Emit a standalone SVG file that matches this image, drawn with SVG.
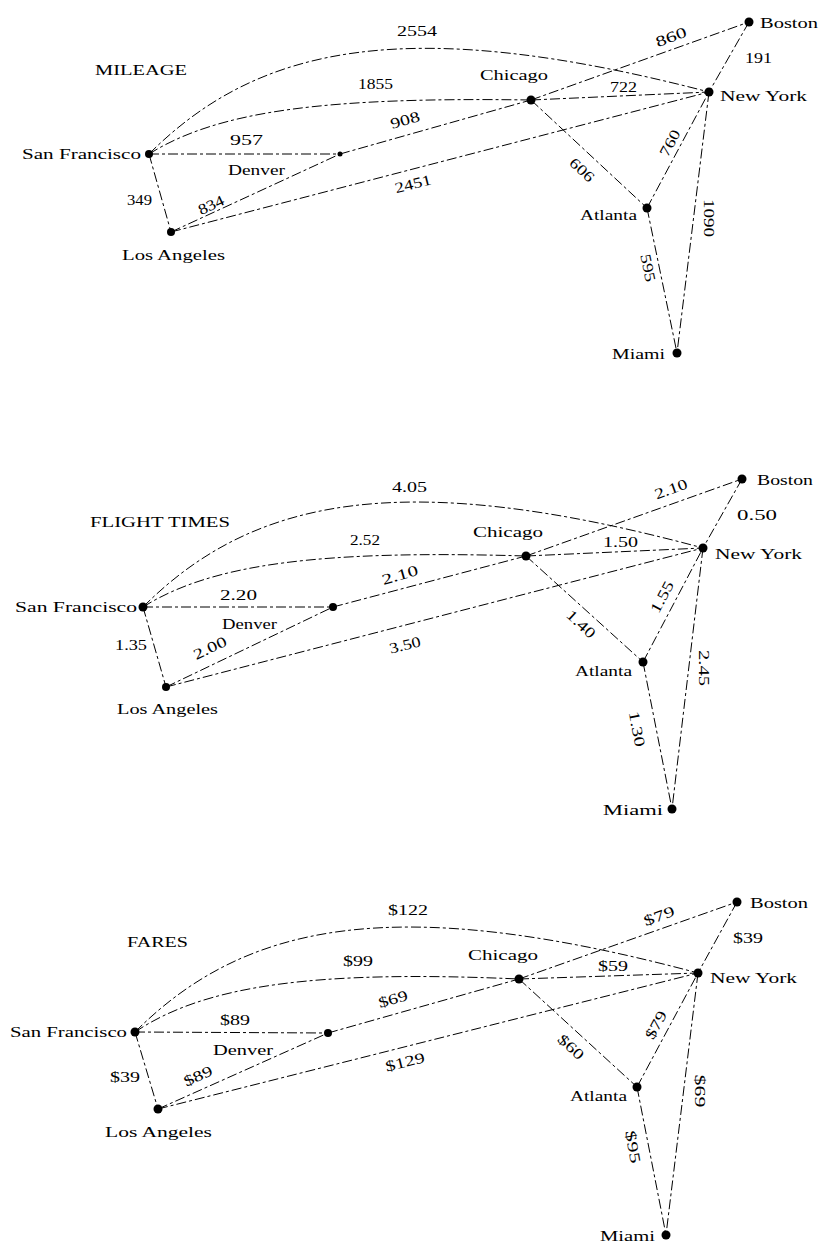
<svg xmlns="http://www.w3.org/2000/svg" width="821" height="1244" viewBox="0 0 821 1244">
<style>
.e{fill:none;stroke:#000;stroke-width:1;stroke-dasharray:10 3 3 3}
.d{fill:#000}
text{font-family:"Liberation Serif","Times New Roman",serif;font-size:15px;fill:#000}
.c{text-anchor:middle}
.h{font-size:14px}
</style>
<rect width="821" height="1244" fill="#fff"/>

<!-- ===== MILEAGE ===== -->
<g id="mileage">
<text class="h" x="95" y="75" textLength="92" lengthAdjust="spacingAndGlyphs">MILEAGE</text>
<g id="m-connectors">
<path class="e" d="M149,154 C259,44 409,14 709,92"/>
<path class="e" d="M149,154 C219,110 329,97 531,100"/>
<line class="e" x1="149" y1="154" x2="340" y2="154"/>
<line class="e" x1="149" y1="154" x2="171" y2="232"/>
<line class="e" x1="171" y1="232" x2="340" y2="154"/>
<line class="e" x1="171" y1="232" x2="709" y2="92"/>
<line class="e" x1="340" y1="154" x2="531" y2="100"/>
<line class="e" x1="531" y1="100" x2="709" y2="92"/>
<line class="e" x1="531" y1="100" x2="749" y2="22"/>
<line class="e" x1="749" y1="22" x2="709" y2="92"/>
<line class="e" x1="531" y1="100" x2="647" y2="208"/>
<line class="e" x1="647" y1="208" x2="709" y2="92"/>
<line class="e" x1="647" y1="208" x2="677" y2="353"/>
<line class="e" x1="709" y1="92" x2="677" y2="353"/>
<text x="397" y="36" textLength="40" lengthAdjust="spacingAndGlyphs">2554</text>
<text x="358" y="89" textLength="35" lengthAdjust="spacingAndGlyphs">1855</text>
<text x="230" y="145" textLength="33" lengthAdjust="spacingAndGlyphs">957</text>
<text x="127" y="205" textLength="25" lengthAdjust="spacingAndGlyphs">349</text>
<text class="c" x="211" y="210" transform="rotate(-25 211 205)" textLength="27" lengthAdjust="spacingAndGlyphs">834</text>
<text class="c" x="405" y="125" transform="rotate(-16 405 120)" textLength="30" lengthAdjust="spacingAndGlyphs">908</text>
<text class="c" x="413" y="189" transform="rotate(-14 413 184)" textLength="37" lengthAdjust="spacingAndGlyphs">2451</text>
<text x="610" y="92" textLength="27" lengthAdjust="spacingAndGlyphs">722</text>
<text class="c" x="671" y="42" transform="rotate(-20 671 37)" textLength="32" lengthAdjust="spacingAndGlyphs">860</text>
<text x="745" y="63" textLength="27" lengthAdjust="spacingAndGlyphs">191</text>
<text class="c" x="582" y="175" transform="rotate(43 582 170)" textLength="28" lengthAdjust="spacingAndGlyphs">606</text>
<text class="c" x="670" y="148" transform="rotate(-62 670 143)" textLength="28" lengthAdjust="spacingAndGlyphs">760</text>
<text class="c" x="648" y="273" transform="rotate(78 648 268)" textLength="28" lengthAdjust="spacingAndGlyphs">595</text>
<text class="c" x="709" y="223" transform="rotate(90 709 218)" textLength="38" lengthAdjust="spacingAndGlyphs">1090</text>
</g>
<g id="m-sf"><circle class="d" cx="149" cy="154" r="4"/><text x="22" y="159" textLength="119" lengthAdjust="spacingAndGlyphs">San Francisco</text></g>
<g id="m-la"><circle class="d" cx="171" cy="232" r="4"/><text x="122" y="260" textLength="103" lengthAdjust="spacingAndGlyphs">Los Angeles</text></g>
<g id="m-den"><circle class="d" cx="340" cy="154" r="2.5"/><text x="228" y="175" textLength="57" lengthAdjust="spacingAndGlyphs">Denver</text></g>
<g id="m-chi"><circle class="d" cx="531" cy="100" r="4.5"/><text x="480" y="80" textLength="68" lengthAdjust="spacingAndGlyphs">Chicago</text></g>
<g id="m-ny"><circle class="d" cx="709" cy="92" r="4.5"/><text x="720" y="101" textLength="87" lengthAdjust="spacingAndGlyphs">New York</text></g>
<g id="m-bos"><circle class="d" cx="749" cy="22" r="4.5"/><text x="760" y="28" textLength="58" lengthAdjust="spacingAndGlyphs">Boston</text></g>
<g id="m-atl"><circle class="d" cx="647" cy="208" r="4.5"/><text x="580" y="220" textLength="57" lengthAdjust="spacingAndGlyphs">Atlanta</text></g>
<g id="m-mia"><circle class="d" cx="677" cy="353" r="4.5"/><text x="612" y="359" textLength="53" lengthAdjust="spacingAndGlyphs">Miami</text></g>
</g>

<!-- ===== FLIGHT TIMES ===== -->
<g id="flight-times">
<text class="h" x="90" y="527" textLength="140" lengthAdjust="spacingAndGlyphs">FLIGHT TIMES</text>
<g id="f-connectors">
<path class="e" d="M143,607 C253,497 403,467 703,548"/>
<path class="e" d="M143,607 C213,563 323,550 526,556"/>
<line class="e" x1="143" y1="607" x2="333" y2="607"/>
<line class="e" x1="143" y1="607" x2="166" y2="687"/>
<line class="e" x1="166" y1="687" x2="333" y2="607"/>
<line class="e" x1="166" y1="687" x2="703" y2="548"/>
<line class="e" x1="333" y1="607" x2="526" y2="556"/>
<line class="e" x1="526" y1="556" x2="703" y2="548"/>
<line class="e" x1="526" y1="556" x2="742" y2="479"/>
<line class="e" x1="742" y1="479" x2="703" y2="548"/>
<line class="e" x1="526" y1="556" x2="643" y2="662"/>
<line class="e" x1="643" y1="662" x2="703" y2="548"/>
<line class="e" x1="643" y1="662" x2="672" y2="809"/>
<line class="e" x1="703" y1="548" x2="672" y2="809"/>
<text x="392" y="492" textLength="35" lengthAdjust="spacingAndGlyphs">4.05</text>
<text x="350" y="545" textLength="30" lengthAdjust="spacingAndGlyphs">2.52</text>
<text x="220" y="600" textLength="37" lengthAdjust="spacingAndGlyphs">2.20</text>
<text x="115" y="650" textLength="32" lengthAdjust="spacingAndGlyphs">1.35</text>
<text class="c" x="210" y="653" transform="rotate(-25 210 648)" textLength="35" lengthAdjust="spacingAndGlyphs">2.00</text>
<text class="c" x="400" y="580" transform="rotate(-16 400 575)" textLength="37" lengthAdjust="spacingAndGlyphs">2.10</text>
<text class="c" x="405" y="650" transform="rotate(-14 405 645)" textLength="32" lengthAdjust="spacingAndGlyphs">3.50</text>
<text x="603" y="547" textLength="35" lengthAdjust="spacingAndGlyphs">1.50</text>
<text class="c" x="671" y="494" transform="rotate(-20 671 489)" textLength="34" lengthAdjust="spacingAndGlyphs">2.10</text>
<text x="737" y="520" textLength="40" lengthAdjust="spacingAndGlyphs">0.50</text>
<text class="c" x="581" y="629" transform="rotate(43 581 624)" textLength="34" lengthAdjust="spacingAndGlyphs">1.40</text>
<text class="c" x="662" y="602" transform="rotate(-62 662 597)" textLength="34" lengthAdjust="spacingAndGlyphs">1.55</text>
<text class="c" x="637" y="734" transform="rotate(79 637 729)" textLength="36" lengthAdjust="spacingAndGlyphs">1.30</text>
<text class="c" x="704" y="673" transform="rotate(90 704 668)" textLength="36" lengthAdjust="spacingAndGlyphs">2.45</text>
</g>
<g id="f-sf"><circle class="d" cx="143" cy="607" r="4.5"/><text x="15" y="612" textLength="122" lengthAdjust="spacingAndGlyphs">San Francisco</text></g>
<g id="f-la"><circle class="d" cx="166" cy="687" r="4"/><text x="117" y="714" textLength="101" lengthAdjust="spacingAndGlyphs">Los Angeles</text></g>
<g id="f-den"><circle class="d" cx="333" cy="607" r="4"/><text x="222" y="629" textLength="55" lengthAdjust="spacingAndGlyphs">Denver</text></g>
<g id="f-chi"><circle class="d" cx="526" cy="556" r="4.5"/><text x="473" y="537" textLength="70" lengthAdjust="spacingAndGlyphs">Chicago</text></g>
<g id="f-ny"><circle class="d" cx="703" cy="548" r="4.5"/><text x="715" y="559" textLength="87" lengthAdjust="spacingAndGlyphs">New York</text></g>
<g id="f-bos"><circle class="d" cx="742" cy="479" r="4.5"/><text x="757" y="485" textLength="56" lengthAdjust="spacingAndGlyphs">Boston</text></g>
<g id="f-atl"><circle class="d" cx="643" cy="662" r="4.5"/><text x="575" y="676" textLength="57" lengthAdjust="spacingAndGlyphs">Atlanta</text></g>
<g id="f-mia"><circle class="d" cx="672" cy="809" r="4.5"/><text x="603" y="815" textLength="60" lengthAdjust="spacingAndGlyphs">Miami</text></g>
</g>

<!-- ===== FARES ===== -->
<g id="fares">
<text class="h" x="127" y="947" textLength="61" lengthAdjust="spacingAndGlyphs">FARES</text>
<g id="a-connectors">
<path class="e" d="M135,1032 C245,922 395,892 698,973"/>
<path class="e" d="M135,1032 C205,985 315,970 519,979"/>
<line class="e" x1="135" y1="1032" x2="328" y2="1033"/>
<line class="e" x1="135" y1="1032" x2="158" y2="1109"/>
<line class="e" x1="158" y1="1109" x2="328" y2="1033"/>
<line class="e" x1="158" y1="1109" x2="698" y2="973"/>
<line class="e" x1="328" y1="1033" x2="519" y2="979"/>
<line class="e" x1="519" y1="979" x2="698" y2="973"/>
<line class="e" x1="519" y1="979" x2="737" y2="902"/>
<line class="e" x1="737" y1="902" x2="698" y2="973"/>
<line class="e" x1="519" y1="979" x2="637" y2="1087"/>
<line class="e" x1="637" y1="1087" x2="698" y2="973"/>
<line class="e" x1="637" y1="1087" x2="666" y2="1235"/>
<line class="e" x1="698" y1="973" x2="666" y2="1235"/>
<text x="388" y="915" textLength="40" lengthAdjust="spacingAndGlyphs">$122</text>
<text x="343" y="966" textLength="30" lengthAdjust="spacingAndGlyphs">$99</text>
<text x="220" y="1025" textLength="30" lengthAdjust="spacingAndGlyphs">$89</text>
<text x="110" y="1082" textLength="30" lengthAdjust="spacingAndGlyphs">$39</text>
<text class="c" x="198" y="1081" transform="rotate(-25 198 1076)" textLength="30" lengthAdjust="spacingAndGlyphs">$89</text>
<text class="c" x="393" y="1004" transform="rotate(-16 393 999)" textLength="30" lengthAdjust="spacingAndGlyphs">$69</text>
<text class="c" x="405" y="1067" transform="rotate(-14 405 1062)" textLength="40" lengthAdjust="spacingAndGlyphs">$129</text>
<text x="598" y="971" textLength="30" lengthAdjust="spacingAndGlyphs">$59</text>
<text class="c" x="659" y="921" transform="rotate(-20 659 916)" textLength="32" lengthAdjust="spacingAndGlyphs">$79</text>
<text x="733" y="943" textLength="30" lengthAdjust="spacingAndGlyphs">$39</text>
<text class="c" x="571" y="1052" transform="rotate(43 571 1047)" textLength="30" lengthAdjust="spacingAndGlyphs">$60</text>
<text class="c" x="656" y="1030" transform="rotate(-62 656 1025)" textLength="30" lengthAdjust="spacingAndGlyphs">$79</text>
<text class="c" x="633" y="1152" transform="rotate(80 633 1147)" textLength="33" lengthAdjust="spacingAndGlyphs">$95</text>
<text class="c" x="700" y="1096" transform="rotate(90 700 1091)" textLength="33" lengthAdjust="spacingAndGlyphs">$69</text>
</g>
<g id="a-sf"><circle class="d" cx="135" cy="1032" r="4.5"/><text x="10" y="1037" textLength="117" lengthAdjust="spacingAndGlyphs">San Francisco</text></g>
<g id="a-la"><circle class="d" cx="158" cy="1109" r="4.5"/><text x="105" y="1137" textLength="107" lengthAdjust="spacingAndGlyphs">Los Angeles</text></g>
<g id="a-den"><circle class="d" cx="328" cy="1033" r="4"/><text x="213" y="1055" textLength="60" lengthAdjust="spacingAndGlyphs">Denver</text></g>
<g id="a-chi"><circle class="d" cx="519" cy="979" r="4.5"/><text x="468" y="960" textLength="70" lengthAdjust="spacingAndGlyphs">Chicago</text></g>
<g id="a-ny"><circle class="d" cx="698" cy="973" r="4.5"/><text x="710" y="983" textLength="87" lengthAdjust="spacingAndGlyphs">New York</text></g>
<g id="a-bos"><circle class="d" cx="737" cy="902" r="4.5"/><text x="750" y="908" textLength="58" lengthAdjust="spacingAndGlyphs">Boston</text></g>
<g id="a-atl"><circle class="d" cx="637" cy="1087" r="4.5"/><text x="570" y="1101" textLength="57" lengthAdjust="spacingAndGlyphs">Atlanta</text></g>
<g id="a-mia"><circle class="d" cx="666" cy="1235" r="4.5"/><text x="600" y="1241" textLength="55" lengthAdjust="spacingAndGlyphs">Miami</text></g>
</g>
</svg>
